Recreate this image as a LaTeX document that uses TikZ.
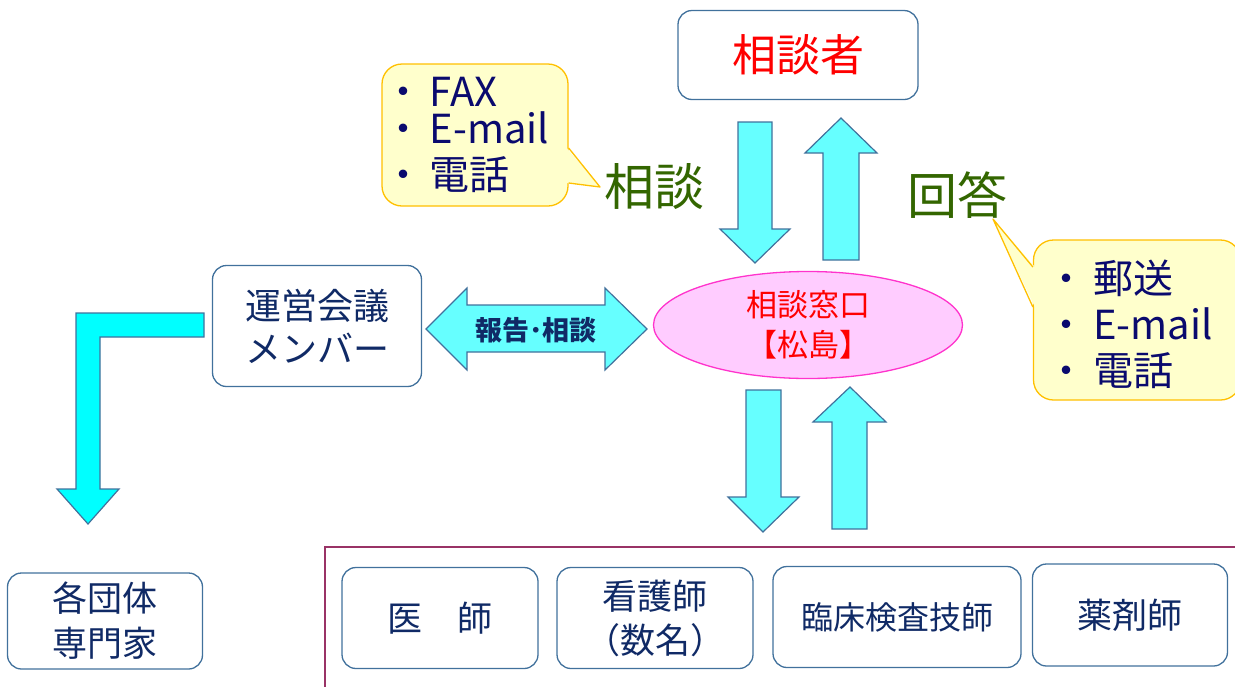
\documentclass[tikz,border=0pt]{standalone}
\usepackage{fontspec}
\setmainfont{Noto Sans CJK JP}
\usetikzlibrary{shapes.geometric}

\definecolor{boxline}{HTML}{41719C}
\definecolor{boxtext}{HTML}{102A66}
\definecolor{arrowfill}{HTML}{66FFFF}
\definecolor{lfill}{HTML}{00FFFF}
\definecolor{bubblefill}{HTML}{FFFFCC}
\definecolor{bubbleline}{HTML}{FFC000}
\definecolor{bubbletext}{HTML}{0A0A6E}
\definecolor{deskfill}{HTML}{FFCCFF}
\definecolor{deskline}{HTML}{FF33CC}
\definecolor{labelgreen}{HTML}{336600}
\definecolor{groupline}{HTML}{993366}

\tikzset{
  box/.style={draw=boxline, line width=1.3pt, rounded corners=14pt, fill=white,
    text=boxtext, align=center, inner sep=0pt},
  bubble/.style={draw=bubbleline, line width=1.3pt, rounded corners=20pt, fill=bubblefill,
    text=bubbletext, align=left, inner ysep=0pt},
  blockarrow/.style={draw=boxline, fill=arrowfill, line width=1.2pt, line join=miter},
  flowlabel/.style={text=labelgreen, font=\fontsize{50}{50}\selectfont},
}

\begin{document}
\begin{tikzpicture}[x=1pt,y=-1pt]
    \useasboundingbox (0,0) rectangle (1235,686);

    % Grupo de profesionales (marco inferior)
    \draw[groupline, line width=1.2pt] (1250,547) -- (325,547) -- (325,700);

    % Cajas principales
    \node[box, minimum width=240pt, minimum height=89pt, text=red,
          font=\fontsize{44}{44}\selectfont] (cliente) at (798,55) {相談者};
    \node[box, minimum width=209pt, minimum height=121pt,
          font=\fontsize{36}{43}\selectfont] (reunion) at (317,326) {運営会議\\メンバー};
    \node[box, minimum width=195pt, minimum height=96pt,
          font=\fontsize{35}{45}\selectfont] (grupos) at (105,621) {各団体\\専門家};

    % Ventanilla
    \node[ellipse, draw=deskline, fill=deskfill, line width=1.3pt, text=red,
          minimum width=309pt, minimum height=107pt, inner sep=0pt, align=center,
          font=\fontsize{31}{40}\selectfont] (ventanilla) at (808,325) {相談窓口\\【松島】};

    % Profesionales
    \node[box, minimum width=196pt, minimum height=101pt,
          font=\fontsize{35}{44}\selectfont] (medico) at (440,618) {医　師};
    \node[box, minimum width=196pt, minimum height=101pt,
          font=\fontsize{35}{44}\selectfont] (enfermera) at (655,618) {看護師\\（数名）};
    \node[box, minimum width=248pt, minimum height=101pt,
          font=\fontsize{32}{40}\selectfont] (tecnico) at (897,617) {臨床検査技師};
    \node[box, minimum width=195pt, minimum height=102pt,
          font=\fontsize{35}{44}\selectfont] (farmacia) at (1130,615) {薬剤師};

    % Globos con los medios
    \node[bubble, text width=184pt, inner xsep=1pt, minimum height=142pt,
          font=\fontsize{40}{37}\selectfont] (medios) at (475,135)
          {・\,FAX\\・\,E-mail\\[9pt]・\,電話};
    \node[bubble, text width=181pt, inner xsep=13pt, minimum height=160pt,
          font=\fontsize{40}{46}\selectfont] (respuesta) at (1137,320)
          {\rule{0pt}{42pt}・\,郵送\\・\,E-mail\\・\,電話};
    \coordinate (mediostip) at (600,187);
    \coordinate (respuestatip) at (993,219);
    \fill[bubblefill] ([shift={(-2,13)}]medios.east) -- (mediostip) -- ([shift={(-2,48)}]medios.east) -- cycle;
    \draw[bubbleline, line width=1.3pt, line join=round]
        ([shift={(0,13)}]medios.east) -- (mediostip) -- ([shift={(0,48)}]medios.east);
    \fill[bubblefill] ([shift={(2,-53)}]respuesta.west) -- (respuestatip) -- ([shift={(2,-13)}]respuesta.west) -- cycle;
    \draw[bubbleline, line width=1.3pt, line join=round]
        ([shift={(0,-53)}]respuesta.west) -- (respuestatip) -- ([shift={(0,-13)}]respuesta.west);

    % Etiquetas
    \node[flowlabel] (consulta) at (654,187) {相談};
    \node[flowlabel] (contesta) at (957,195) {回答};

    % Flechas arriba (cliente <-> ventanilla)
    \draw[blockarrow] (738,122) -- (772,122) -- (772,229) -- (790,229) -- (755,263)
        -- (720,229) -- (738,229) -- cycle;
    \draw[blockarrow] (823,260) -- (859,260) -- (859,153) -- (877,153) -- (841,118)
        -- (805,153) -- (823,153) -- cycle;

    % Flechas abajo (ventanilla <-> profesionales)
    \draw[blockarrow] (746,390) -- (781,390) -- (781,497) -- (799,497) -- (763,532)
        -- (728,497) -- (746,497) -- cycle;
    \draw[blockarrow] (832,529) -- (867,529) -- (867,422) -- (886,422) -- (850,387)
        -- (813,422) -- (832,422) -- cycle;

    % Flecha doble (reunion <-> ventanilla)
    \draw[blockarrow] (426,329) -- (467,288) -- (467,305) -- (605,305) -- (605,288)
        -- (647,329) -- (605,370) -- (605,352) -- (467,352) -- (467,370) -- cycle;
    \node[text=boxtext, font=\bfseries\fontsize{27}{27}\selectfont] (informe) at (536,330) {報告･相談};

    % Flecha en L (reunion -> grupos)
    \draw[blockarrow, fill=lfill] (204,313) -- (76,313) -- (76,489) -- (57,489) -- (88,524)
        -- (119,489) -- (100,489) -- (100,337) -- (204,337) -- cycle;

\end{tikzpicture}
\end{document}
